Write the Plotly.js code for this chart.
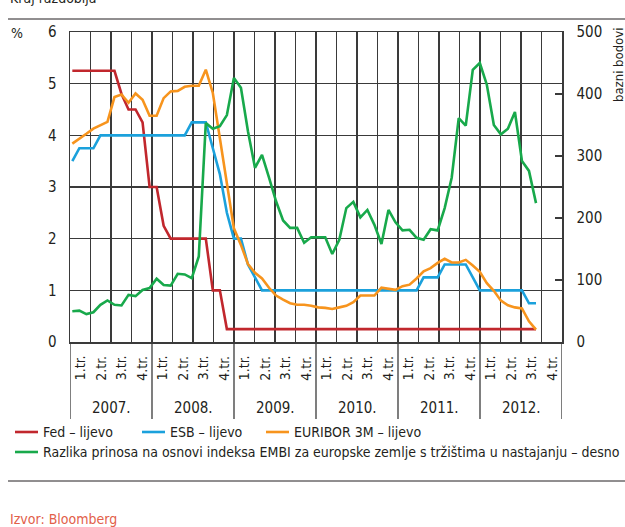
<!DOCTYPE html>
<html>
<head>
<meta charset="utf-8">
<script src="https://cdn.plot.ly/plotly-3.0.1.min.js"></script>
<style>html,body{margin:0;padding:0;background:#fff;}#chart{width:625px;height:527px;}</style>
</head>
<body>
<div id="chart"></div>
<script>
// ---- data ----
const seriesNames = ['Fed – lijevo', 'ESB – lijevo', 'EURIBOR 3M – lijevo',
  'Razlika prinosa na osnovi indeksa EMBI za europske zemlje s tržištima u nastajanju – desno'];
const quarterLabels = ['1.tr.', '2.tr.', '3.tr.', '4.tr.'];
const yearLabels = ['2007.', '2008.', '2009.', '2010.', '2011.', '2012.'];
const leftTicks = [0, 1, 2, 3, 4, 5, 6];
const rightTicks = [0, 100, 200, 300, 400, 500];

const fed = [5.25, 5.25, 5.25, 5.25, 5.25, 5.25, 5.25, 4.8, 4.5, 4.5, 4.25, 3.0, 3.0, 2.25,
  2.0, 2.0, 2.0, 2.0, 2.0, 2.0, 1.0, 1.0,
  0.25, 0.25, 0.25, 0.25, 0.25, 0.25, 0.25, 0.25, 0.25, 0.25, 0.25, 0.25, 0.25, 0.25, 0.25,
  0.25, 0.25, 0.25, 0.25, 0.25, 0.25, 0.25, 0.25, 0.25, 0.25, 0.25, 0.25, 0.25, 0.25, 0.25,
  0.25, 0.25, 0.25, 0.25, 0.25, 0.25, 0.25, 0.25, 0.25, 0.25, 0.25, 0.25, 0.25, 0.25, 0.25];

const esb = [3.5, 3.75, 3.75, 3.75, 4.0, 4.0, 4.0, 4.0, 4.0, 4.0, 4.0, 4.0, 4.0, 4.0, 4.0, 4.0, 4.0,
  4.25, 4.25, 4.25, 3.75, 3.25, 2.5, 2.0, 2.0, 1.5, 1.25,
  1.0, 1.0, 1.0, 1.0, 1.0, 1.0, 1.0, 1.0, 1.0, 1.0, 1.0, 1.0, 1.0, 1.0, 1.0, 1.0, 1.0, 1.0, 1.0,
  1.0, 1.0, 1.0, 1.0, 1.25, 1.25, 1.25, 1.5, 1.5, 1.5, 1.5, 1.25,
  1.0, 1.0, 1.0, 1.0, 1.0, 1.0, 1.0, 0.75, 0.75];

const euribor = [3.84, 3.93, 4.03, 4.13, 4.19, 4.26, 4.74, 4.79, 4.63, 4.81, 4.69, 4.38, 4.38, 4.72,
  4.85, 4.86, 4.94, 4.96, 4.96, 5.27, 4.82, 3.97, 3.07, 2.2, 1.88, 1.51, 1.34, 1.23, 1.05, 0.9,
  0.82, 0.75, 0.72, 0.72, 0.7, 0.67, 0.66, 0.64, 0.67, 0.7, 0.77, 0.9, 0.9, 0.9, 1.05, 1.03, 1.01,
  1.08, 1.11, 1.23, 1.37, 1.43, 1.53, 1.61, 1.54, 1.54, 1.59, 1.48, 1.36, 1.14, 0.99, 0.8, 0.71,
  0.67, 0.65, 0.4, 0.24];

const embi = [49.5, 50.5, 45, 48, 60, 67, 60, 59, 76, 74, 84, 87, 102, 92, 91, 110, 109, 103, 138,
  353, 344, 348, 366, 426, 410, 340, 281, 302, 265, 227, 196, 184, 184, 160, 169, 169, 169, 142,
  165, 216, 226, 201, 213, 189, 158, 213, 193, 180, 181, 168, 165, 182, 180, 216, 265, 361, 349,
  439, 450, 415, 350, 335, 344, 371, 292, 276, 224];

const colors = ['#c1272d', '#1ba1dc', '#f7941d', '#18a94b'];

// ---- layout geometry ----
const W = 625, H = 527;
const L = 70, R = 562, T = 32, B = 342;
const X0 = -0.33, X1 = 69.70;
const nQ = 24;
const qW = (X1 - X0) / nQ;
const px = p => (p - L) / (R - L);
const py = p => (B - p) / (B - T);

const FONT = '"Liberation Sans Narrow", "DejaVu Sans Condensed", sans-serif';
const TXT = '#231f20';
const GRID = '#3a3a3a';

const xs = fed.map((_, i) => i);

const traces = [
  {x: xs, y: fed, yaxis: 'y', name: seriesNames[0]},
  {x: xs, y: esb, yaxis: 'y', name: seriesNames[1]},
  {x: xs, y: euribor, yaxis: 'y', name: seriesNames[2]},
  {x: xs, y: embi, yaxis: 'y2', name: seriesNames[3]}
].map((t, k) => Object.assign(t, {
  type: 'scatter', mode: 'lines', showlegend: false, hoverinfo: 'skip',
  line: {color: colors[k], width: 2.6}
}));

const annotations = [];
const shapes = [];

// header
annotations.push({xref: 'paper', yref: 'paper', x: px(8), y: py(8), xanchor: 'left', yanchor: 'bottom',
  text: 'Kraj razdoblja', showarrow: false, font: {family: FONT, size: 14, color: TXT}});
shapes.push({type: 'line', xref: 'paper', yref: 'paper', x0: px(8), x1: px(625), y0: py(19), y1: py(19),
  line: {color: TXT, width: 1}});
annotations.push({xref: 'paper', yref: 'paper', x: px(9), y: py(33), xanchor: 'left', yanchor: 'middle',
  text: '%', showarrow: false, font: {family: FONT, size: 14, color: TXT}});
annotations.push({xref: 'paper', yref: 'paper', x: px(618), y: py(65), xanchor: 'center', yanchor: 'middle',
  text: 'bazni bodovi', textangle: -90, showarrow: false, font: {family: FONT, size: 13, color: TXT}});

// quarter labels
for (let q = 0; q < nQ; q++) {
  annotations.push({xref: 'x', yref: 'paper', x: X0 + qW * (q + 0.5), y: py(368),
    xanchor: 'center', yanchor: 'middle', textangle: -90, showarrow: false,
    text: quarterLabels[q % 4], font: {family: FONT, size: 14, color: TXT}});
}
// year labels and dividers
for (let k = 0; k < yearLabels.length; k++) {
  annotations.push({xref: 'x', yref: 'paper', x: X0 + qW * (4 * k + 2), y: py(408),
    xanchor: 'center', yanchor: 'middle', showarrow: false,
    text: yearLabels[k], font: {family: FONT, size: 15, color: TXT}});
}
for (let k = 0; k <= yearLabels.length; k++) {
  const xv = X0 + qW * 4 * k;
  shapes.push({type: 'line', xref: 'x', yref: 'paper', x0: xv, x1: xv, y0: 0, y1: py(419),
    line: {color: GRID, width: 1.3}});
}

// legend (manual)
const legendItems = [
  {x: 15, y: 432, k: 0}, {x: 142, y: 432, k: 1}, {x: 266, y: 432, k: 2}, {x: 15, y: 452, k: 3}
];
legendItems.forEach(it => {
  shapes.push({type: 'line', xref: 'paper', yref: 'paper', x0: px(it.x), x1: px(it.x + 23),
    y0: py(it.y), y1: py(it.y), line: {color: colors[it.k], width: 2.6}});
  annotations.push({xref: 'paper', yref: 'paper', x: px(it.x + 26), y: py(it.y), xanchor: 'left',
    yanchor: 'middle', showarrow: false, text: seriesNames[it.k],
    font: {family: FONT, size: 14, color: TXT}});
});

shapes.push({type: 'line', xref: 'paper', yref: 'paper', x0: px(8), x1: px(625), y0: py(481), y1: py(481),
  line: {color: TXT, width: 1}});
annotations.push({xref: 'paper', yref: 'paper', x: px(8), y: py(519), xanchor: 'left', yanchor: 'middle',
  text: 'Izvor: Bloomberg', showarrow: false, font: {family: FONT, size: 14, color: '#e2604a'}});

const layout = {
  width: W, height: H,
  margin: {l: L, r: W - R, t: T, b: H - B, pad: 0},
  paper_bgcolor: '#fff', plot_bgcolor: '#fff',
  showlegend: false,
  font: {family: FONT, size: 14, color: TXT},
  xaxis: {
    range: [X0, X1], tickmode: 'linear', tick0: X0, dtick: qW,
    showgrid: true, gridcolor: GRID, gridwidth: 1.5,
    showticklabels: false, ticks: '', zeroline: false,
    showline: true, mirror: true, linecolor: GRID, linewidth: 1.5, fixedrange: true
  },
  yaxis: {
    range: [0, 6], tickmode: 'array', tickvals: leftTicks, ticktext: leftTicks.map(String),
    showgrid: true, gridcolor: GRID, gridwidth: 1.5, zeroline: false,
    showline: true, linecolor: GRID, linewidth: 1.5, ticks: '', ticklabelstandoff: 9,
    tickfont: {family: FONT, size: 15, color: TXT}, fixedrange: true
  },
  yaxis2: {
    range: [0, 500], overlaying: 'y', side: 'right', tickmode: 'array', tickvals: rightTicks,
    ticktext: rightTicks.map(String), showgrid: false, zeroline: false,
    showline: true, linecolor: GRID, linewidth: 1.5,
    ticks: 'inside', ticklen: 7, tickwidth: 1.3, tickcolor: GRID, ticklabelstandoff: 10,
    tickfont: {family: FONT, size: 15, color: TXT}, fixedrange: true
  },
  annotations: annotations,
  shapes: shapes
};

Plotly.newPlot('chart', traces, layout, {staticPlot: true, displayModeBar: false});
</script>
</body>
</html>
